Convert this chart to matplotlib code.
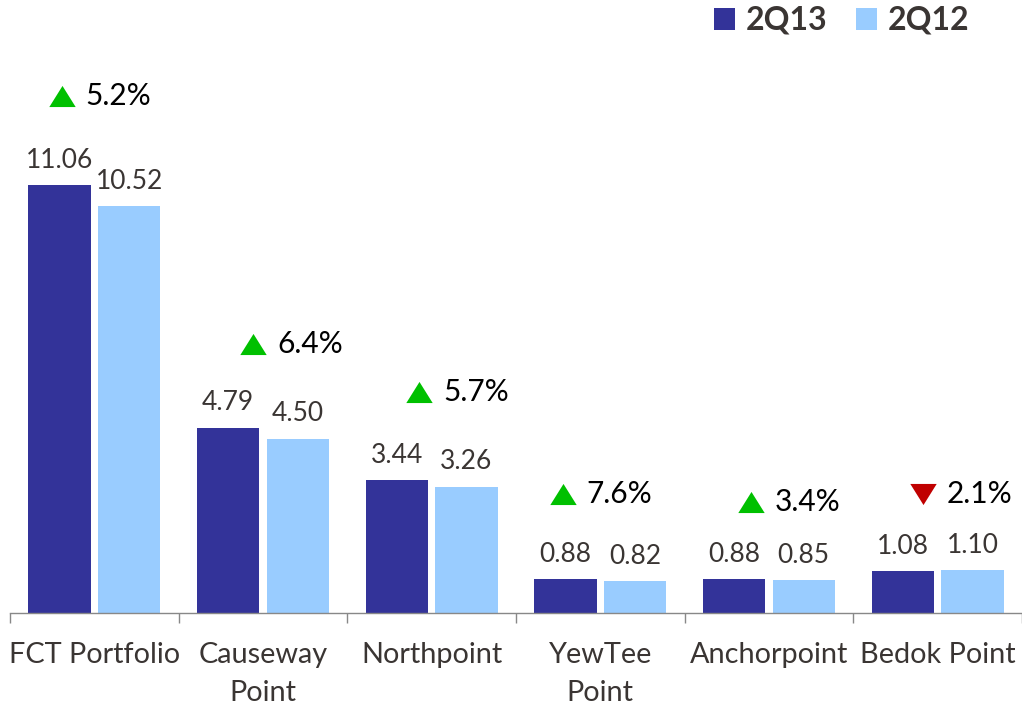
import matplotlib
matplotlib.use("Agg")
import matplotlib.pyplot as plt
from matplotlib.patches import Patch
from matplotlib.path import Path
import numpy as np

# ---- data ----
categories = ["FCT Portfolio", "Causeway\nPoint", "Northpoint", "YewTee\nPoint", "Anchorpoint", "Bedok Point"]
series_names = ["2Q13", "2Q12"]
values_2q13 = [11.06, 4.79, 3.44, 0.88, 0.88, 1.08]
values_2q12 = [10.52, 4.50, 3.26, 0.82, 0.85, 1.10]
change_pct = [5.2, 6.4, 5.7, 7.6, 3.4, -2.1]

# ---- layout (annotation placement) ----
ann_dx = [-0.194, -0.057, -0.076, -0.224, -0.106, -0.088]   # triangle x offset from group centre
ann_y = [13.36, 6.95, 5.71, 3.07, 2.87, 3.07]                 # vertical position in data units

c_dark = "#333399"
c_light = "#99CCFF"
c_up = "#00C000"
c_down = "#C00000"
c_text = "#3a3533"

plt.rcParams["font.family"] = ["Lato", "DejaVu Sans"]

W, H = 1022, 707
fig = plt.figure(figsize=(W / 100, H / 100), dpi=100)
base_px = 613
ppu = 38.7
ax = fig.add_axes([10 / W, (H - base_px) / H, 1012 / W, base_px / H])
ax.set_xlim(-0.5, -0.5 + 1012 / 170)
ax.set_ylim(0, base_px / ppu)

x = np.arange(len(categories))
bw = 0.37
off = 0.206
b1 = ax.bar(x - off, values_2q13, bw, color=c_dark, label=series_names[0])
b2 = ax.bar(x + off, values_2q12, bw, color=c_light, label=series_names[1])

for bars in (b1, b2):
    for r in bars:
        v = r.get_height()
        ax.annotate(f"{v:.2f}", (r.get_x() + r.get_width() / 2, v),
                    xytext=(0, 12.5), textcoords="offset points",
                    ha="center", va="baseline", fontsize=19, color=c_text)

up_path = Path([(-1, -0.8), (1, -0.8), (0, 0.8), (-1, -0.8)])
down_path = Path([(-1, 0.8), (1, 0.8), (0, -0.8), (-1, 0.8)])
for i, ch in enumerate(change_pct):
    tx = x[i] + ann_dx[i]
    ty = ann_y[i]
    if ch >= 0:
        ax.plot([tx], [ty], marker=up_path, ms=19, color=c_up, mec="none", ls="none", clip_on=False)
    else:
        ax.plot([tx], [ty], marker=down_path, ms=19, color=c_down, mec="none", ls="none", clip_on=False)
    ax.annotate(f"{abs(ch):.1f}%", (tx, ty), xytext=(17.3, 0), textcoords="offset points",
                ha="left", va="center", fontsize=21.5, color="black")

for s in ("top", "right", "left"):
    ax.spines[s].set_visible(False)
ax.spines["bottom"].set_color("#888888")
ax.spines["bottom"].set_linewidth(1.0)
ax.set_yticks([])
ax.set_xticks(x)
ax.set_xticklabels(categories, fontsize=20.8, color=c_text, linespacing=1.55)
ax.tick_params(axis="x", which="major", length=0, pad=21)
ax.set_xticks(np.arange(-0.5, len(categories), 1.0), minor=True)
ax.tick_params(axis="x", which="minor", length=7, width=1.0, color="#888888", direction="out")

handles = [Patch(facecolor=c_dark, label=series_names[0]),
           Patch(facecolor=c_light, label=series_names[1])]
leg = fig.legend(handles=handles, loc="upper left", bbox_to_anchor=(714 / W, 1 - 6 / H),
                 ncol=2, frameon=False, prop={"weight": "bold", "size": 23},
                 handlelength=0.67, handleheight=0.67, handletextpad=0.32,
                 columnspacing=0.89, borderpad=0, borderaxespad=0)
for t in leg.get_texts():
    t.set_color(c_text)

fig.savefig("out.png", dpi=100)
